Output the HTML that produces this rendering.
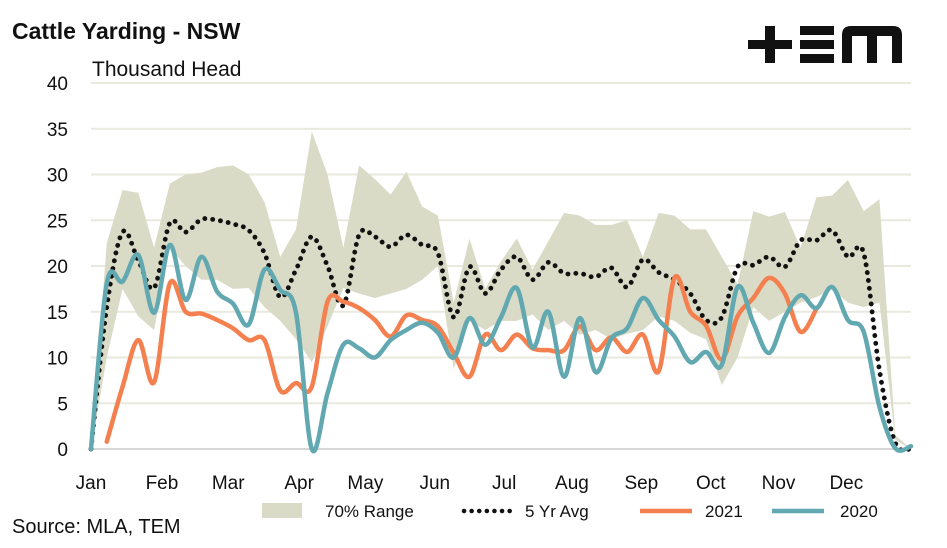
<!DOCTYPE html>
<html><head><meta charset="utf-8"><style>
body{margin:0;background:#fff;width:947px;height:543px;overflow:hidden;font-family:"Liberation Sans",sans-serif}
svg text{font-family:"Liberation Sans",sans-serif}
</style></head><body>
<svg id="chart" width="947" height="543">
<text x="12" y="39" font-size="23" font-weight="bold" fill="#111">Cattle Yarding - NSW</text>
<text x="92" y="76" font-size="21" fill="#111">Thousand Head</text>
<g fill="#111">
<rect x="748" y="40" width="44" height="9"/><rect x="765" y="26" width="10" height="37"/>
<rect x="800" y="26" width="34" height="9"/><rect x="800" y="40" width="34" height="9"/><rect x="800" y="54" width="34" height="9"/>
<path d="M842 63 V35 Q842 26 851 26 H893 Q902 26 902 35 V63 H892 V36 H877 V63 H867 V36 H852 V63 Z"/>
</g>
<g id="grid"></g><g id="plot"></g>
<text x="12" y="533" font-size="20" fill="#111">Source: MLA, TEM</text>
<g>
<g><rect x="262" y="503" width="40" height="15" fill="#D9DBC6"/><text x="325" y="517" font-size="17" fill="#111">70% Range</text></g>
<g><line x1="464" y1="511" x2="512" y2="511" stroke="#111" stroke-width="4.5" stroke-dasharray="0.1 7.5" stroke-linecap="round"/><text x="525" y="517" font-size="17" fill="#111">5 Yr Avg</text></g>
<g><line x1="640" y1="511" x2="692" y2="511" stroke="#F4804F" stroke-width="4.5"/><text x="705" y="517" font-size="17" fill="#111">2021</text></g>
<g><line x1="772" y1="511" x2="824" y2="511" stroke="#62A8B0" stroke-width="4.5"/><text x="840" y="517" font-size="17" fill="#111">2020</text></g>
</g>
</svg>
<script>
const months=["Jan","Feb","Mar","Apr","May","Jun","Jul","Aug","Sep","Oct","Nov","Dec"];
const monthWeeks=[0,4.5,8.7,13.2,17.4,21.8,26.2,30.5,34.9,39.3,43.6,47.9];
const yTicks=[0,5,10,15,20,25,30,35,40];
const rangeHigh=[0,22.5,28.3,28,22,29,30,30.2,30.8,31,30,27,21,24,34.7,30,22,31,29.5,27.8,30.3,26.5,25.5,16,23,17.5,20.5,23,19.6,22.7,25.8,25.5,24.5,24.5,25,21,25.8,25.5,24,24,21,18,26,25.4,25.9,22,27.5,27.7,29.4,26,27.3,1.5,0];
const rangeLow=[0,10,17.5,14.5,13,22,20,18.5,18.5,17.5,17.6,15.5,14,12,9.5,13.4,17.6,17,16.5,17,17.5,18.5,20,8.7,14,13,14,14,14.7,13,14,12.5,13,12,12.6,13,14.5,14,12.7,12,7,10,15.5,14,15,16,16.6,17.5,16,15.5,16,1,0];
const avg5=[0,15.5,23.7,20.6,17.6,24.7,23.7,25.1,25,24.6,23.9,21.4,16.6,19.6,23.2,20,15.7,23.4,23.2,22.1,23.4,22.3,21.4,14.4,19.9,17,19.6,21,18.5,20.4,19.2,19.2,18.8,19.8,17.7,20.7,19.3,18.5,17,14.1,14.4,19.9,20.1,21,19.9,22.8,22.8,23.9,21,21.4,8.6,0.7,0];
const y2020=[0,18.1,18.3,21.2,14.9,22.3,16.3,21,17.2,15.9,13.6,19.6,17.4,14.9,0,6.1,11.4,11,10,11.9,13,13.8,12.7,10,14.3,11.4,14.4,17.6,11.1,15,7.9,14.3,8.4,12.1,13.2,16.5,14.1,12.3,9.5,10.6,9.2,17.7,13.8,10.5,14.4,16.8,15.4,17.7,14.1,12.8,4.6,0.1,0.3];
const y2021=[null,0.8,6.8,11.9,7.3,18.1,15,14.8,14.1,13.2,11.9,11.9,6.4,7.2,6.8,16.1,16.1,15.4,14.1,12.3,14.6,14.1,13.4,10.5,7.9,12.5,10.8,12.5,11,10.8,10.8,13.4,10.8,12.2,10.6,12.5,8.5,18.7,15,13.5,9.8,14.5,16.5,18.7,17,12.8,15.3];
const NS="http://www.w3.org/2000/svg";
const X0=91,X1=911,Y0=449,Y1=83;
const xs=w=>X0+(X1-X0)*w/52;
const ys=v=>Y0-(Y0-Y1)*v/40;
const grid=document.getElementById('grid'),plot=document.getElementById('plot');
function mk(tag,attrs,parent){const e=document.createElementNS(NS,tag);for(const k in attrs)e.setAttribute(k,attrs[k]);parent.appendChild(e);return e;}
yTicks.forEach(t=>{
 const l=mk('line',{x1:X0,x2:X1,y1:ys(t),y2:ys(t),stroke:t===0?'#D6D6D6':'#E9E9DF','stroke-width':2},grid);
 
 
 const tx=mk('text',{x:68,y:ys(t)+7,'text-anchor':'end','font-size':19,fill:'#111'},grid);tx.textContent=t;
 
 
});
months.forEach((m,i)=>{
 const tx=mk('text',{x:xs(monthWeeks[i]),y:489,'text-anchor':'middle','font-size':19,fill:'#111'},grid);tx.textContent=m;
 
 
});
let d='M'+rangeHigh.map((v,i)=>xs(i)+','+ys(v)).join(' L');
for(let i=rangeLow.length-1;i>=0;i--)d+=' L'+xs(i)+','+ys(rangeLow[i]);
const area=mk('path',{d:d+'Z',fill:'#D9DBC6'},plot);


function smooth(arr){
 const p=[];arr.forEach((v,i)=>{if(v!==null)p.push([xs(i),ys(v)]);});
 let s='M'+p[0][0]+','+p[0][1];
 for(let i=0;i<p.length-1;i++){
  const a=p[Math.max(i-1,0)],b=p[i],c=p[i+1],e=p[Math.min(i+2,p.length-1)];
  const c1=[b[0]+(c[0]-a[0])/6,b[1]+(c[1]-a[1])/6],c2=[c[0]-(e[0]-b[0])/6,c[1]-(e[1]-b[1])/6];
  s+=' C'+c1+' '+c2+' '+c;
 }
 return s;
}
const la=mk('path',{d:smooth(avg5),fill:'none',stroke:'#111','stroke-width':4.8,'stroke-dasharray':'0.1 7.8','stroke-linecap':'round'},plot);


const l21=mk('path',{d:smooth(y2021),fill:'none',stroke:'#F4804F','stroke-width':4.5,'stroke-linecap':'round'},plot);


const l20=mk('path',{d:smooth(y2020),fill:'none',stroke:'#62A8B0','stroke-width':4.5,'stroke-linecap':'round'},plot);


</script>
</body></html>
